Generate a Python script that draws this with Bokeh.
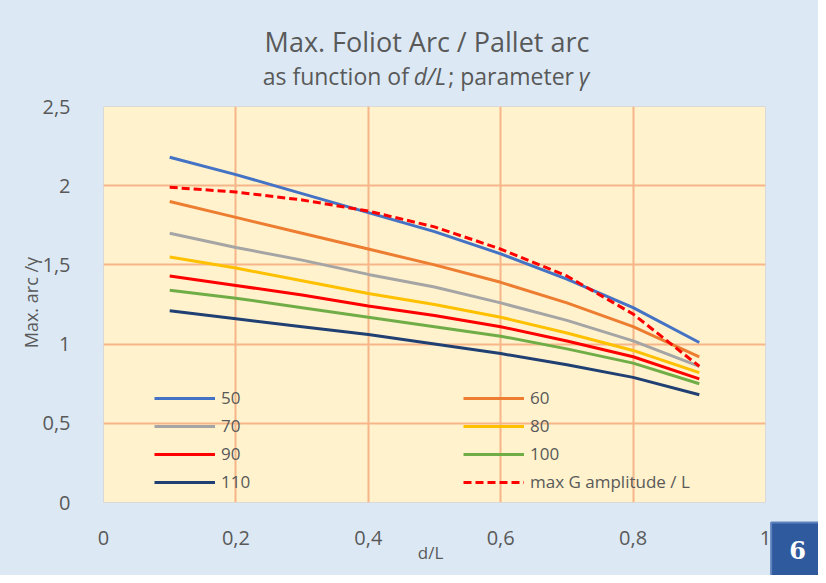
import math
from bokeh.plotting import figure
from bokeh.layouts import column
from bokeh.models import Range1d, FixedTicker, Label, Legend, LegendItem
from bokeh.embed import file_html
from bokeh.resources import INLINE

# ---- data ----
d_over_L = [0.1, 0.2, 0.3, 0.4, 0.5, 0.6, 0.7, 0.8, 0.9]
g50 = [2.18, 2.07, 1.95, 1.83, 1.71, 1.57, 1.41, 1.23, 1.01]
g60 = [1.90, 1.80, 1.70, 1.60, 1.50, 1.39, 1.26, 1.11, 0.92]
g70 = [1.70, 1.61, 1.53, 1.44, 1.36, 1.26, 1.15, 1.02, 0.86]
g80 = [1.55, 1.48, 1.40, 1.32, 1.25, 1.17, 1.07, 0.96, 0.82]
g90 = [1.43, 1.37, 1.31, 1.24, 1.18, 1.11, 1.02, 0.92, 0.78]
g100 = [1.34, 1.29, 1.23, 1.17, 1.11, 1.05, 0.97, 0.88, 0.75]
g110 = [1.21, 1.16, 1.11, 1.06, 1.00, 0.94, 0.87, 0.79, 0.68]
maxG = [1.99, 1.96, 1.91, 1.84, 1.74, 1.60, 1.43, 1.19, 0.86]

series_names = ["50", "60", "70", "80", "90", "100", "110", "max G amplitude / L"]
x_ticks = [0, 0.2, 0.4, 0.6, 0.8, 1.0]
x_tick_labels = ["0", "0,2", "0,4", "0,6", "0,8", "1"]
y_ticks = [0, 0.5, 1.0, 1.5, 2.0, 2.5]
y_tick_labels = ["0", "0,5", "1", "1,5", "2", "2,5"]

FONT = "Open Sans"
TXT = "#595959"
BG = "#DCE9F5"
W = 818
HEAD = 92
TOTAL_H = 575
FL, FR = 103, 766   # plot-area left / right (page pixels)

# ---------- header figure (title + subtitle) ----------
h = figure(width=W, height=HEAD, output_backend="svg", toolbar_location=None,
           x_range=Range1d(FL, FR), y_range=Range1d(HEAD, 0),
           x_axis_location=None, y_axis_location=None, min_border=0,
           min_border_left=FL, min_border_right=W - FR)
h.background_fill_alpha = 0
h.border_fill_color = BG
h.outline_line_color = None
h.grid.visible = False

def hlab(text, x, y, size, align="center", style="normal"):
    h.add_layout(Label(x=x, y=y, text=text, text_font=FONT, text_font_size=size,
                       text_color=TXT, text_align=align, text_baseline="middle",
                       text_font_style=style))

hlab("Max. Foliot Arc / Pallet arc", 427, 41, "27px")
s = 23
x0 = 427 - 14.31 * s / 2
hlab("as function of", x0, 75, f"{s}px", align="left")
x1 = x0 + 6.577 * s
hlab("d/L", x1, 75, f"{s}px", align="left", style="italic")
x2 = x1 + 1.503 * s
hlab("; parameter", x2, 75, f"{s}px", align="left")
x3 = x2 + 5.683 * s
hlab("γ", x3, 75, f"{s}px", align="left", style="italic")

# ---------- chart figure ----------
CH = TOTAL_H - HEAD
p = figure(width=W, height=CH, output_backend="svg", toolbar_location=None,
           x_range=Range1d(0, 1), y_range=Range1d(0, 2.5),
           min_border_left=FL, min_border_right=W - FR, min_border_top=106 - HEAD,
           min_border_bottom=CH - (502 - HEAD))
p.background_fill_color = "#FFF2CC"
p.border_fill_color = BG
p.outline_line_color = "#D9D9D9"

for ax, ticks, labels, standoff in [(p.xaxis[0], x_ticks, x_tick_labels, 22),
                                     (p.yaxis[0], y_ticks, y_tick_labels, 27)]:
    ax.ticker = FixedTicker(ticks=ticks)
    ax.major_label_overrides = {t: l for t, l in zip(ticks, labels)}
    ax.axis_line_color = None
    ax.major_tick_line_color = None
    ax.minor_tick_line_color = None
    ax.major_label_text_font = FONT
    ax.major_label_text_font_size = "20px"
    ax.major_label_text_color = TXT
    ax.major_label_standoff = standoff

p.grid.grid_line_color = "#F7B58A"
p.grid.grid_line_width = 2

colors = ["#4472C4", "#ED7D31", "#A5A5A5", "#FFC000", "#FF0000", "#70AD47", "#203F73", "#FF0000"]
data = [g50, g60, g70, g80, g90, g100, g110, maxG]
renderers = []
for i, ys in enumerate(data):
    dash = "8 4" if i == 7 else "solid"
    r = p.line(d_over_L, ys, line_color=colors[i], line_width=3, line_dash=dash,
               line_join="round", line_cap="butt")
    renderers.append(r)

def make_legend(idx, vx):
    lg = Legend(items=[LegendItem(label=series_names[i], renderers=[renderers[i]]) for i in idx],
                location=(vx, 9), orientation="vertical",
                glyph_width=61, glyph_height=20, label_height=20, spacing=5,
                label_standoff=6, padding=0, margin=0,
                background_fill_alpha=0, border_line_color=None,
                label_text_font=FONT, label_text_font_size="17px", label_text_color=TXT)
    p.add_layout(lg)

make_legend([0, 2, 4, 6], 51)
make_legend([1, 3, 5, 7], 360)

def lab(side, text, cx, cy, size, align="center", style="normal", angle=0, color=TXT, font=FONT, **kw):
    l = Label(x=cx, y=cy - HEAD, x_units="canvas", y_units="canvas", text=text,
              text_font=font, text_font_size=size, text_color=color, text_align=align,
              text_baseline="middle", text_font_style=style, angle=angle, **kw)
    p.add_layout(l, side)

# axis titles
lab("left", "Max. arc /γ", 30, 302, "18px", angle=math.pi / 2)
lab("below", "d/L", 430, 552, "17px")

# slide number box
lab("right", "6", 797, 549, "24px", color="white", font="DejaVu Serif", style="bold",
    background_fill_color="#2F5B9E", border_line_color="#5E82BE", border_line_width=2,
    padding=18)

layout = column(h, p, spacing=0, styles={"background-color": BG})
open("out.html", "w").write(file_html(layout, INLINE))
